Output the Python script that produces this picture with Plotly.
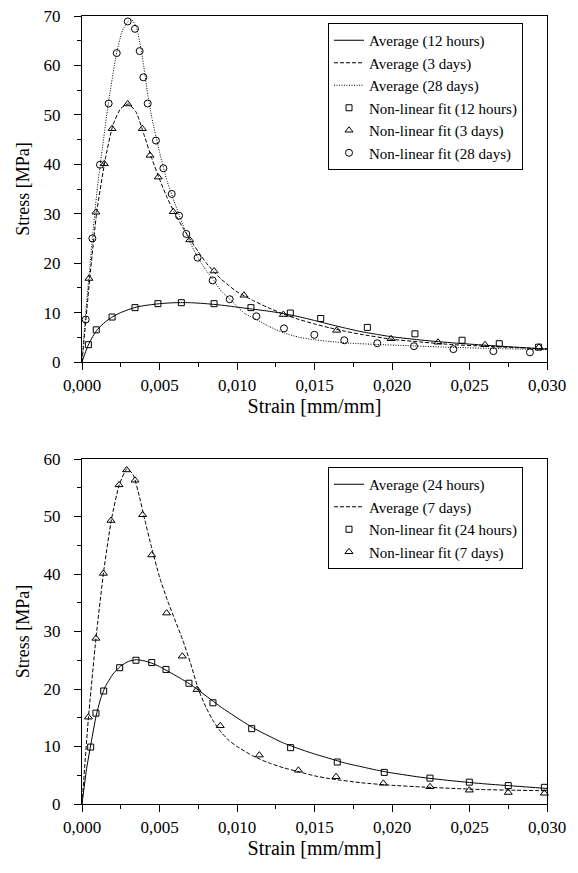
import plotly.graph_objects as go

# ---------------- Top chart data ----------------
avg12h_x = [0, 0.0002, 0.0004, 0.0007, 0.001, 0.0015, 0.002, 0.0025, 0.003, 0.0035, 0.004, 0.005, 0.006, 0.007,
            0.008, 0.009, 0.010, 0.011, 0.012, 0.013, 0.014, 0.015, 0.016, 0.017, 0.018, 0.019, 0.020, 0.022,
            0.024, 0.026, 0.028, 0.030]
avg12h_y = [0, 1.8, 3.4, 5.2, 6.6, 8.1, 9.2, 10.0, 10.6, 11.1, 11.4, 11.8, 12.0, 12.0,
            11.8, 11.5, 11.1, 10.7, 10.3, 9.8, 9.15, 8.4, 7.6, 6.85, 6.15, 5.6, 5.1, 4.4,
            3.85, 3.4, 3.0, 2.6]

avg3d_x = [0, 0.0005, 0.00095, 0.0015, 0.002, 0.0025, 0.003, 0.0035, 0.004, 0.0045, 0.005, 0.0055, 0.006,
           0.0065, 0.007, 0.0075, 0.008, 0.0085, 0.009, 0.0095, 0.010, 0.011, 0.012, 0.013, 0.014, 0.015,
           0.016, 0.017, 0.018, 0.020, 0.022, 0.024, 0.026, 0.028, 0.030]
avg3d_y = [0, 16.9, 30.3, 41.0, 48.0, 51.3, 52.2, 50.5, 46.0, 41.2, 37.0, 33.2, 30.0,
           27.2, 24.7, 22.3, 20.1, 18.3, 16.7, 15.4, 14.2, 12.5, 11.0, 9.7, 8.6, 7.7,
           6.9, 6.2, 5.6, 4.6, 4.0, 3.5, 3.2, 2.9, 2.7]

avg28d_x = [0, 0.0002, 0.0005, 0.0007, 0.001, 0.0012, 0.0017, 0.0022, 0.0026, 0.003, 0.0032, 0.0035, 0.0038,
            0.004, 0.0042, 0.0045, 0.005, 0.0055, 0.006, 0.0065, 0.007, 0.0075, 0.008, 0.0085, 0.009, 0.0098,
            0.0105, 0.0113, 0.012, 0.013, 0.014, 0.015, 0.016, 0.0173, 0.019, 0.021, 0.024, 0.027, 0.030]
avg28d_y = [0, 8.6, 19.0, 26.0, 35.5, 40.5, 52.3, 62.0, 67.0, 69.0, 69.3, 67.8, 63.5,
            59.5, 55.0, 49.5, 42.5, 36.5, 32.0, 27.8, 24.0, 21.0, 18.6, 16.5, 14.3, 11.9,
            9.8, 8.5, 7.3, 5.9, 5.0, 4.5, 4.15, 3.8, 3.55, 3.3, 2.95, 2.7, 2.5]

fit12h_x = [0.00041, 0.00092, 0.00194, 0.00342, 0.0049, 0.00641, 0.00852, 0.0109, 0.01344, 0.0154,
            0.01841, 0.02148, 0.02452, 0.02692, 0.02946]
fit12h_y = [3.5, 6.5, 9.1, 11.0, 11.8, 12.0, 11.8, 11.0, 9.9, 8.8,
            7.0, 5.7, 4.4, 3.7, 3.0]

fit3d_x = [0.00045, 0.0009, 0.00144, 0.00194, 0.00295, 0.00389, 0.00439, 0.00492, 0.00589, 0.00695,
           0.00852, 0.01045, 0.01299, 0.01643, 0.01994, 0.02297, 0.026, 0.02948]
fit3d_y = [16.9, 30.3, 40.1, 47.2, 52.2, 47.2, 41.8, 37.4, 30.4, 24.7,
           18.4, 13.5, 9.6, 6.4, 4.7, 4.0, 3.5, 3.0]

fit28d_x = [0.00024, 0.00067, 0.00116, 0.00172, 0.00224, 0.00295, 0.00342, 0.00372, 0.00396, 0.00424,
            0.00477, 0.00525, 0.00579, 0.00626, 0.00673, 0.00746, 0.00843, 0.00953, 0.01125, 0.01303,
            0.01499, 0.01692, 0.01905, 0.02142, 0.02396, 0.02654, 0.0289]
fit28d_y = [8.6, 25.0, 39.9, 52.3, 62.5, 68.9, 67.4, 62.9, 57.6, 52.3,
            44.8, 39.2, 34.0, 29.6, 25.9, 21.1, 16.5, 12.7, 9.25, 6.8,
            5.5, 4.4, 3.8, 3.2, 2.6, 2.2, 1.96]

# ---------------- Bottom chart data ----------------
avg24h_x = [0, 0.0003, 0.0006, 0.0009, 0.0012, 0.0015, 0.002, 0.0025, 0.003, 0.0035, 0.004, 0.0045, 0.005,
            0.006, 0.007, 0.008, 0.009, 0.010, 0.011, 0.012, 0.013, 0.014, 0.015, 0.016, 0.017, 0.018,
            0.019, 0.020, 0.022, 0.024, 0.026, 0.028, 0.030]
avg24h_y = [0, 6.2, 10.8, 15.2, 18.3, 20.4, 22.6, 24.0, 24.8, 25.1, 24.9, 24.5, 23.9,
            22.4, 20.8, 18.8, 16.8, 15.0, 13.3, 11.9, 10.6, 9.6, 8.7, 7.9, 7.1, 6.5,
            5.9, 5.4, 4.6, 4.0, 3.5, 3.1, 2.7]

avg7d_x = [0, 0.0004, 0.0009, 0.0014, 0.0019, 0.0024, 0.0029, 0.0033, 0.0037, 0.004, 0.0045, 0.005, 0.0055,
           0.006, 0.0065, 0.007, 0.0075, 0.008, 0.0085, 0.009, 0.0095, 0.010, 0.011, 0.012, 0.013, 0.014,
           0.015, 0.016, 0.018, 0.020, 0.022, 0.024, 0.026, 0.028, 0.030]
avg7d_y = [0, 14.5, 28.8, 40.5, 49.5, 55.5, 58.3, 57.3, 53.5, 50.0, 44.5, 39.5, 35.5,
           32.0, 28.5, 24.5, 20.0, 16.8, 14.3, 12.4, 11.0, 10.0, 8.4, 7.2, 6.3, 5.6,
           4.9, 4.4, 3.7, 3.25, 2.95, 2.7, 2.5, 2.4, 2.3]

fit24h_x = [0.00056, 0.0009, 0.0014, 0.00243, 0.00348, 0.0045, 0.00542, 0.0069, 0.00845, 0.01095,
            0.01346, 0.01647, 0.0195, 0.02245, 0.02499, 0.0275, 0.02983]
fit24h_y = [9.9, 15.8, 19.65, 23.7, 25.0, 24.6, 23.4, 21.0, 17.6, 13.1,
            9.8, 7.3, 5.5, 4.5, 3.8, 3.2, 2.9]

fit7d_x = [0.00041, 0.0009, 0.00138, 0.00187, 0.00239, 0.00288, 0.00342, 0.00391, 0.0045, 0.00546,
           0.00647, 0.00742, 0.00892, 0.01144, 0.01396, 0.01639, 0.01944, 0.02245, 0.02499, 0.0275, 0.02983]
fit7d_y = [15.1, 28.8, 40.1, 49.3, 55.5, 58.1, 56.3, 50.3, 43.3, 33.2,
           25.7, 19.9, 13.6, 8.5, 5.86, 4.75, 3.6, 3.0, 2.4, 2.0, 1.86]

x_ticks = [0, 0.005, 0.010, 0.015, 0.020, 0.025, 0.030]
x_ticklabels = ["0,000", "0,005", "0,010", "0,015", "0,020", "0,025", "0,030"]

FONT = "Liberation Serif, Times New Roman, Times, serif"
OFF = 8                      # page body margin
W, H = 578 - 2 * OFF, 873 - 2 * OFF


def px_x(p):
    return (p - OFF) / W


def px_y(p):
    return (H - (p - OFF)) / H


xdom = [px_x(82), px_x(547)]
ydom_top = [px_y(362), px_y(16)]
ydom_bot = [px_y(804), px_y(459)]

fig = go.Figure()


def line(x, y, name, dash, xa, ya, leg):
    fig.add_trace(go.Scatter(x=x, y=y, mode="lines", name=name, xaxis=xa, yaxis=ya, legend=leg,
                             line=dict(color="black", width=1, dash=dash, shape="spline", smoothing=0.5)))


def pts(x, y, name, symbol, xa, ya, leg, size=7):
    fig.add_trace(go.Scatter(x=x, y=y, mode="markers", name=name, xaxis=xa, yaxis=ya, legend=leg,
                             cliponaxis=False,
                             marker=dict(symbol=symbol, size=size, color="black",
                                         line=dict(color="black", width=1))))


# top
line(avg12h_x, avg12h_y, "Average (12 hours)", "solid", "x", "y", "legend")
line(avg3d_x, avg3d_y, "Average (3 days)", "4px,2px", "x", "y", "legend")
line(avg28d_x, avg28d_y, "Average (28 days)", "1px,1.5px", "x", "y", "legend")
pts(fit12h_x, fit12h_y, "Non-linear fit (12 hours)", "square-open", "x", "y", "legend", 6)
pts(fit3d_x, fit3d_y, "Non-linear fit (3 days)", "triangle-up-open", "x", "y", "legend", 7)
pts(fit28d_x, fit28d_y, "Non-linear fit (28 days)", "circle-open", "x", "y", "legend", 7)
# bottom
line(avg24h_x, avg24h_y, "Average (24 hours)", "solid", "x2", "y2", "legend2")
line(avg7d_x, avg7d_y, "Average (7 days)", "4px,2px", "x2", "y2", "legend2")
pts(fit24h_x, fit24h_y, "Non-linear fit (24 hours)", "square-open", "x2", "y2", "legend2", 6)
pts(fit7d_x, fit7d_y, "Non-linear fit (7 days)", "triangle-up-open", "x2", "y2", "legend2", 7)


def xaxis(anchor):
    return dict(domain=xdom, anchor=anchor, range=[0, 0.030], tickvals=x_ticks, ticktext=x_ticklabels,
                automargin=False, ticklabeloverflow="allow",
                ticks="outside", ticklen=7, tickwidth=1, tickcolor="black",
                showline=True, linecolor="black", linewidth=1.3, mirror=True,
                showgrid=False, zeroline=False,
                minor=dict(dtick=0.0025, tick0=0, ticks="outside", ticklen=4, tickcolor="black", tickwidth=1),
                tickfont=dict(family=FONT, size=17, color="black"),
                title=dict(text="Strain [mm/mm]", font=dict(family=FONT, size=20, color="black"), standoff=4))


def yaxis(anchor, dom, top):
    return dict(domain=dom, anchor=anchor, range=[0, top], dtick=10, tick0=0,
                automargin=False, ticklabeloverflow="allow",
                ticks="outside", ticklen=7, tickwidth=1, tickcolor="black",
                ticklabelstandoff=10,
                showline=True, linecolor="black", linewidth=1.3, mirror=True,
                showgrid=False, zeroline=False,
                minor=dict(dtick=5, tick0=0, ticks="outside", ticklen=4, tickcolor="black", tickwidth=1),
                tickfont=dict(family=FONT, size=17, color="black"),
                title=dict(text="Stress [MPa]", font=dict(family=FONT, size=18, color="black"), standoff=9))


legend_style = dict(bgcolor="white", bordercolor="black", borderwidth=1,
                    font=dict(family=FONT, size=15, color="black"),
                    xanchor="left", yanchor="top", tracegroupgap=0, itemwidth=30)

fig.update_layout(
    width=W, height=H, autosize=False,
    margin=dict(l=0, r=0, t=0, b=0, autoexpand=False),
    paper_bgcolor="white", plot_bgcolor="white",
    font=dict(family=FONT, color="black"),
    xaxis=xaxis("y"), yaxis=yaxis("x", ydom_top, 70),
    xaxis2=xaxis("y2"), yaxis2=yaxis("x2", ydom_bot, 60),
    legend=dict(x=px_x(328), y=px_y(23), **legend_style),
    legend2=dict(x=px_x(328), y=px_y(467), **legend_style),
)

fig.write_html("out.html")
